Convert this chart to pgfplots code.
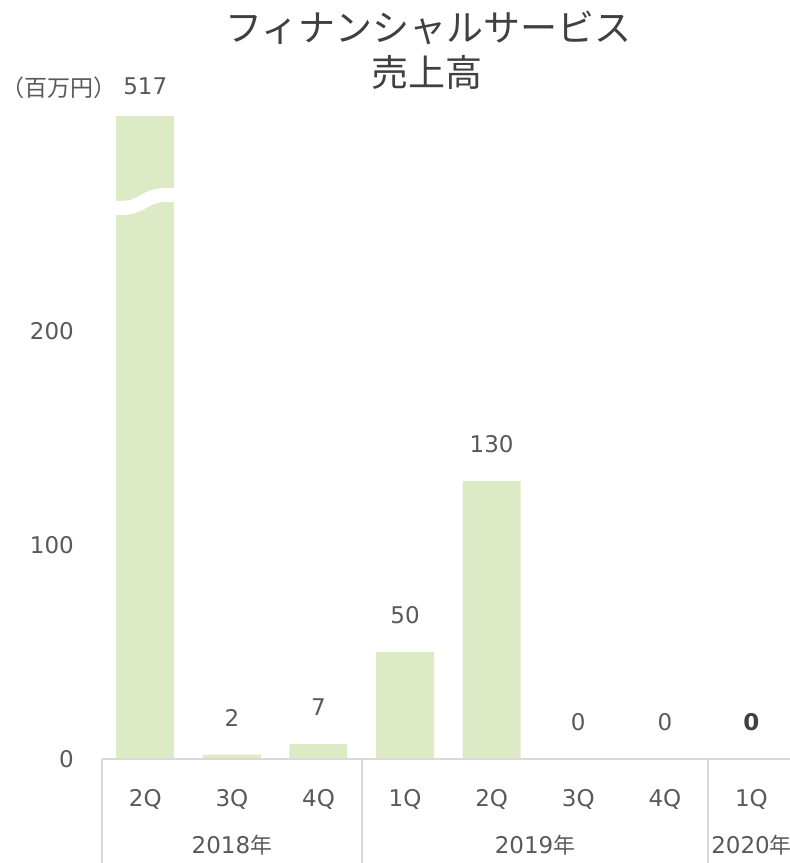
\documentclass[border=0pt]{standalone}
\usepackage{pgfplots}
\pgfplotsset{compat=1.18}
\usepackage{fontspec}
\setmainfont{DejaVu Sans}
\newfontfamily\jp{Noto Sans CJK JP}[Scale=0.95]
\newfontfamily\jpt{Noto Sans CJK JP}
\definecolor{barc}{RGB}{220,234,198}
\definecolor{txt}{RGB}{89,89,89}
\definecolor{ttl}{RGB}{64,64,64}
\definecolor{gridc}{RGB}{217,217,217}
\newcommand{\lbl}{\fontsize{23bp}{27bp}\selectfont}
\begin{document}
\begin{tikzpicture}
\useasboundingbox (0,0) rectangle (790bp,863bp);
\begin{axis}[
  at={(102bp,104bp)}, anchor=south west,
  scale only axis, width=688bp, height=643bp,
  xmin=-0.5, xmax=7.445, ymin=0, ymax=300.7,
  ybar, bar width=58bp, bar shift=0pt,
  clip=false,
  axis line style={draw=none},
  tick style={draw=none},
  xtick={0,...,7},
  xticklabels={2Q,3Q,4Q,1Q,2Q,3Q,4Q,1Q},
  xticklabel style={anchor=base, yshift=-42.9bp, inner sep=0pt},
  ytick={0,100,200},
  yticklabels={0,100,200},
  yticklabel style={anchor=east, xshift=-28bp, inner sep=0pt},
  ticklabel style={font=\lbl, text=txt},
  point meta=explicit symbolic,
  nodes near coords,
  every node near coord/.append style={font=\lbl, text=txt, anchor=center, inner sep=0pt, yshift=37bp},
]
\addplot[fill=barc, draw=none] coordinates {(1,2) [2] (2,7) [7] (3,50) [50] (4,130) [130] (5,0) [0] (6,0) [0]};
\addplot[fill=barc, draw=none, nodes near coords style={yshift=-7bp}] coordinates {(0,300.7) [517]};
\addplot[fill=barc, draw=none, nodes near coords style={font=\lbl\bfseries, text=ttl}] coordinates {(7,0) [0]};
% axis break on the first bar
\draw[white, line width=14bp] (axis cs:-0.45,257.7) -- (axis cs:-0.28,257.7) .. controls (axis cs:-0.02,257.7) and (axis cs:-0.02,263.8) .. (axis cs:0.25,263.8) -- (axis cs:0.45,263.8);
% category axis line and separators
\draw[gridc, line width=1.5bp] (axis cs:-0.5,0) -- (axis cs:7.445,0);
\draw[gridc, line width=1.5bp] (axis cs:-0.5,0) -- ++(0pt,-104bp);
\draw[gridc, line width=1.5bp] (axis cs:2.5,0) -- ++(0pt,-104bp);
\draw[gridc, line width=1.5bp] (axis cs:6.5,0) -- ++(0pt,-104bp);
% year labels
\node[font=\lbl, text=txt, anchor=base, inner sep=0pt] at (axis cs:1,0) [yshift=-94.4bp] {2018{\jp 年}};
\node[font=\lbl, text=txt, anchor=base, inner sep=0pt] at (axis cs:4.5,0) [yshift=-94.4bp] {2019{\jp 年}};
\node[font=\lbl, text=txt, anchor=base, inner sep=0pt] at (axis cs:7,0) [yshift=-94.4bp] {2020{\jp 年}};
\end{axis}
% unit label and title
\node[font=\fontsize{23bp}{28bp}\selectfont\jpt, text=txt, inner sep=0pt] at (59bp,775bp) {（百万円）};
\node[font=\fontsize{37bp}{44bp}\selectfont\jpt, text=ttl, anchor=base, inner sep=0pt] at (428.5bp,821bp) {フィナンシャルサービス};
\node[font=\fontsize{37bp}{44bp}\selectfont\jpt, text=ttl, anchor=base, inner sep=0pt] at (426.5bp,776.5bp) {売上高};
\end{tikzpicture}
\end{document}
